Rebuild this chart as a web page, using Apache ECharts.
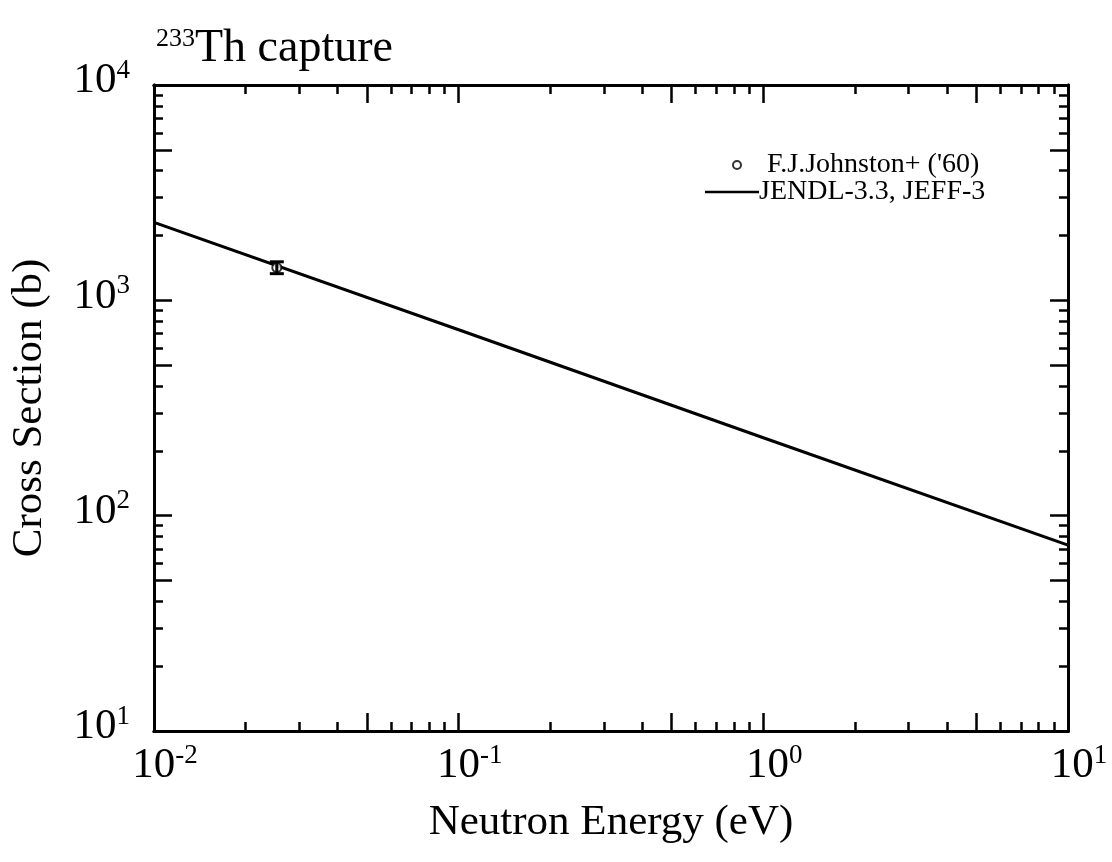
<!DOCTYPE html>
<html>
<head>
<meta charset="utf-8">
<script src="https://cdn.jsdelivr.net/npm/echarts@6/dist/echarts.min.js"></script>
<style>html,body{margin:0;padding:0;background:#fff}#c{width:1112px;height:862px}</style>
</head>
<body>
<div id="c"></div>
<script>
// ---- data ----
const lineEnergies = [0.01, 0.1, 1, 10];
const lineXS = [2300, 730, 230, 73];
const expEnergies = [0.0253];
const expXS = [1420];
const expLow = [1330];
const expHigh = [1510];
const xMajorTicks = [0.01, 0.05, 0.1, 0.5, 1, 5, 10];
const xMinorTicks = [0.02, 0.03, 0.04, 0.06, 0.07, 0.08, 0.09, 0.2, 0.3, 0.4, 0.6, 0.7, 0.8, 0.9, 2, 3, 4, 6, 7, 8, 9];
const xLabelValues = [0.01, 0.1, 1, 10];
const yMajorTicks = [10, 50, 100, 500, 1000, 5000, 10000];
const yMinorTicks = [20, 30, 40, 60, 70, 80, 90, 200, 300, 400, 600, 700, 800, 900, 2000, 3000, 4000, 6000, 7000, 8000, 9000];
const yLabelValues = [10, 100, 1000, 10000];
const seriesNames = ["F.J.Johnston+ ('60)", 'JENDL-3.3, JEFF-3'];

const FONT = "'Liberation Serif', 'DejaVu Serif', serif";
const supFmt = v => '{b|10}{s|' + Math.round(Math.log10(v)) + '}';
const labelRich = {
  b: { fontSize: 43, fontFamily: FONT, color: '#000', lineHeight: 48 },
  s: { fontSize: 27, fontFamily: FONT, color: '#000', verticalAlign: 'top', lineHeight: 16 }
};
const axLine = { show: true, lineStyle: { color: '#000', width: 3 } };

function xAx(pos, ticks, len, labels) {
  return {
    type: 'log', logBase: 10, min: 0.01, max: 10, position: pos, gridIndex: 0,
    axisLine: axLine,
    axisTick: { show: true, inside: true, length: len, customValues: ticks, lineStyle: { color: '#000', width: 2.5 } },
    axisLabel: labels ? { show: true, customValues: xLabelValues, formatter: supFmt, rich: labelRich, margin: 11, padding: [0, 0, 0, 22] } : { show: false },
    minorTick: { show: false }, splitLine: { show: false },
    name: labels ? 'Neutron Energy (eV)' : '', nameLocation: 'middle', nameGap: 70,
    nameTextStyle: { fontSize: 43, fontFamily: FONT, color: '#000' }
  };
}
function yAx(pos, ticks, len, labels) {
  return {
    type: 'log', logBase: 10, min: 10, max: 10000, position: pos, gridIndex: 0,
    axisLine: axLine,
    axisTick: { show: true, inside: true, length: len, customValues: ticks, lineStyle: { color: '#000', width: 2.5 } },
    axisLabel: labels ? { show: true, customValues: yLabelValues, formatter: supFmt, rich: labelRich, margin: 24, padding: [0, 0, 8, 0] } : { show: false },
    minorTick: { show: false }, splitLine: { show: false },
    name: labels ? 'Cross Section (b)' : '', nameLocation: 'middle', nameGap: 103,
    nameTextStyle: { fontSize: 43, fontFamily: FONT, color: '#000' }
  };
}

const legendText = { fontSize: 28, fontFamily: FONT, color: '#000' };

const chart = echarts.init(document.getElementById('c'), null, { renderer: 'canvas' });
chart.setOption({
  backgroundColor: '#fff',
  animation: false,
  title: {
    text: '{s|233}{m|Th capture}', left: 151, top: 21,
    textStyle: {
      fontWeight: 'normal',
      rich: {
        s: { fontSize: 26, fontFamily: FONT, fontWeight: 'normal', color: '#000', verticalAlign: 'top', lineHeight: 20 },
        m: { fontSize: 46, fontFamily: FONT, fontWeight: 'normal', color: '#000', lineHeight: 46 }
      }
    }
  },
  grid: { left: 153, right: 44, top: 85, bottom: 131, containLabel: false },
  legend: [
    {
      data: [{ name: seriesNames[0], icon: 'circle', itemStyle: { color: '#fff', borderColor: '#000', borderWidth: 2 } }],
      left: 727, top: 146, itemWidth: 10, itemHeight: 8, itemGap: 0,
      textStyle: Object.assign({ padding: [0, 0, 0, 20] }, legendText)
    },
    {
      data: [{ name: seriesNames[1], icon: 'rect', itemStyle: { color: '#000', borderWidth: 0 } }],
      left: 700, top: 173, itemWidth: 54, itemHeight: 2.5, itemGap: 0,
      textStyle: Object.assign({ padding: [0, 0, 0, -5] }, legendText)
    }
  ],
  xAxis: [xAx('bottom', xMajorTicks, 18, true), xAx('bottom', xMinorTicks, 9, false), xAx('top', xMajorTicks, 18, false), xAx('top', xMinorTicks, 9, false)],
  yAxis: [yAx('left', yMajorTicks, 18, true), yAx('left', yMinorTicks, 9, false), yAx('right', yMajorTicks, 18, false), yAx('right', yMinorTicks, 9, false)],
  series: [
    {
      name: seriesNames[0], type: 'scatter', xAxisIndex: 0, yAxisIndex: 0,
      symbol: 'emptyCircle', symbolSize: 9,
      itemStyle: { color: '#000', borderColor: '#000', borderWidth: 2.5 },
      data: expEnergies.map((e, i) => [e, expXS[i]]), z: 5
    },
    {
      name: 'err', type: 'custom', xAxisIndex: 0, yAxisIndex: 0, z: 6,
      data: expEnergies.map((e, i) => [e, expLow[i], expHigh[i]]),
      renderItem: function (params, api) {
        const lo = api.coord([api.value(0), api.value(1)]);
        const hi = api.coord([api.value(0), api.value(2)]);
        const w = 7;
        const st = { stroke: '#000', lineWidth: 3 };
        return {
          type: 'group', children: [
            { type: 'line', shape: { x1: lo[0], y1: lo[1], x2: hi[0], y2: hi[1] }, style: st },
            { type: 'line', shape: { x1: lo[0] - w, y1: lo[1], x2: lo[0] + w, y2: lo[1] }, style: st },
            { type: 'line', shape: { x1: hi[0] - w, y1: hi[1], x2: hi[0] + w, y2: hi[1] }, style: st }
          ]
        };
      }
    },
    {
      name: seriesNames[1], type: 'line', xAxisIndex: 0, yAxisIndex: 0,
      symbol: 'none', showSymbol: false,
      lineStyle: { color: '#000', width: 3 }, itemStyle: { color: '#000' },
      data: lineEnergies.map((e, i) => [e, lineXS[i]]), z: 3
    }
  ]
});
</script>
</body>
</html>
